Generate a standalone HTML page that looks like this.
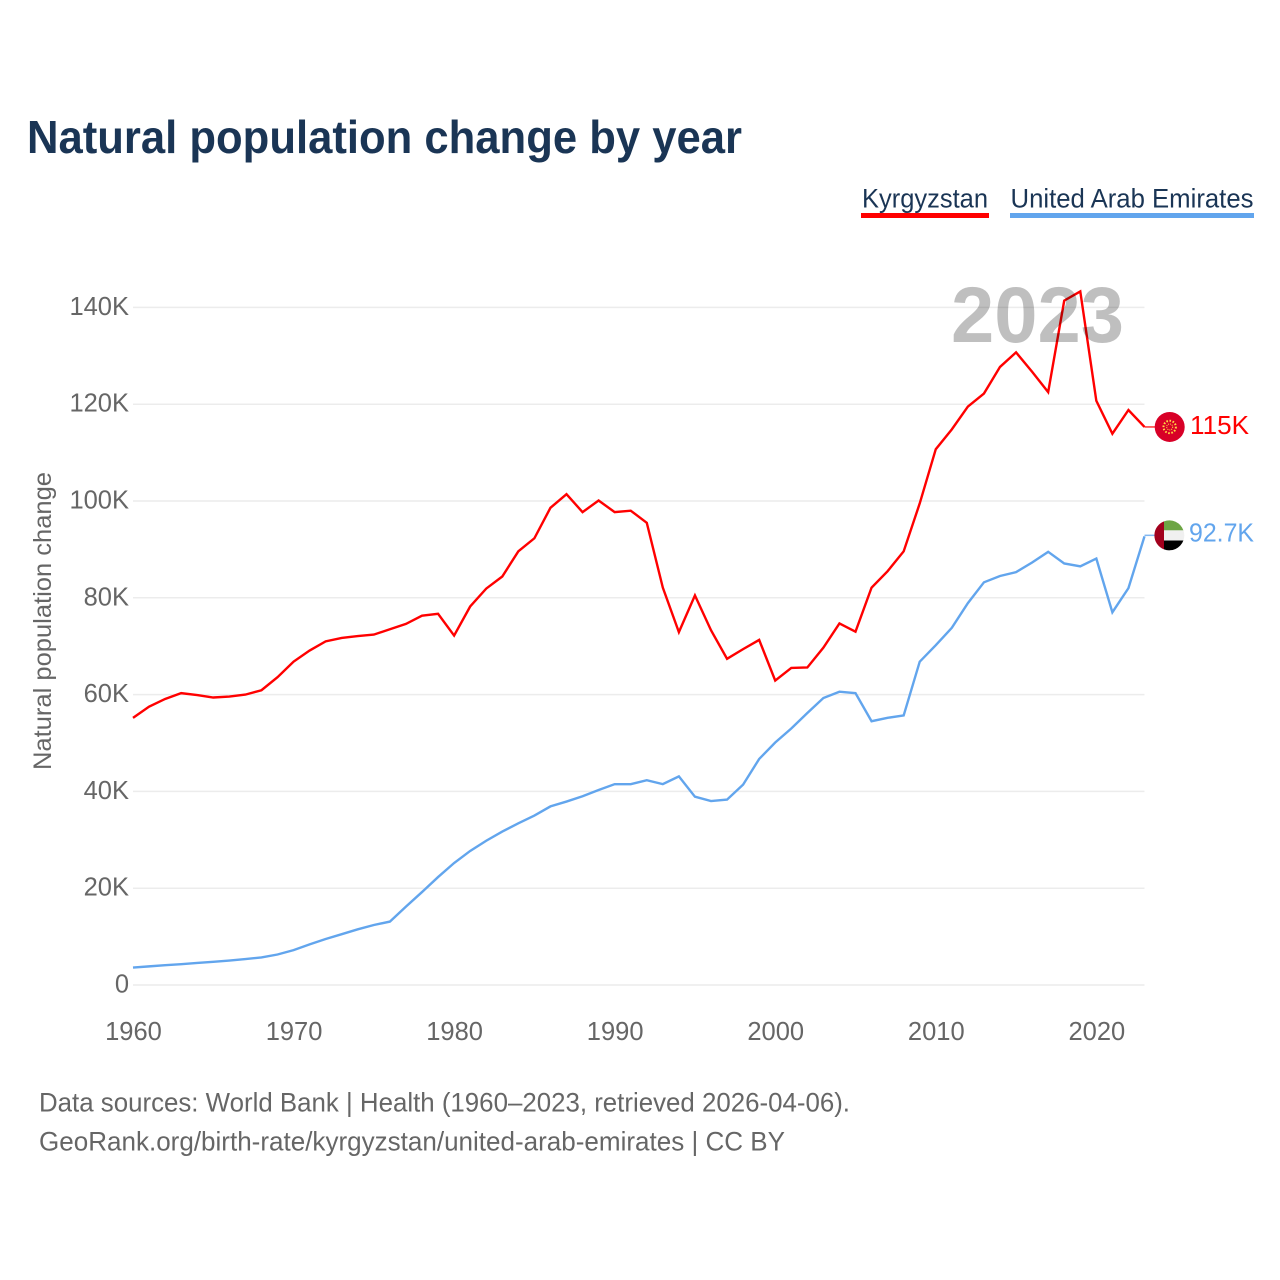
<!DOCTYPE html>
<html lang="en">
<head>
<meta charset="utf-8">
<title>Natural population change by year</title>
<style>
html,body{margin:0;padding:0;background:#fff;}
#chart{display:block;width:1280px;height:1280px;font-family:"Liberation Sans",sans-serif;}
</style>
</head>
<body>
<svg id="chart" xmlns="http://www.w3.org/2000/svg" width="1280" height="1280" viewBox="0 0 1280 1280">
  <rect x="0" y="0" width="1280" height="1280" fill="#ffffff"/>
  <text x="27" y="153" font-size="46" font-weight="700" fill="#1a3555" textLength="715" lengthAdjust="spacingAndGlyphs">Natural population change by year</text>

  <text x="862" y="207.5" font-size="27" fill="#1a3555" textLength="126" lengthAdjust="spacingAndGlyphs">Kyrgyzstan</text>
  <rect x="861" y="213" width="128" height="5" fill="#ff0000"/>
  <text x="1010.5" y="207.5" font-size="27" fill="#1a3555" textLength="243" lengthAdjust="spacingAndGlyphs">United Arab Emirates</text>
  <rect x="1010" y="213" width="244" height="5" fill="#62a5ed"/>

  <g id="grid"></g>
  <g id="yticks"></g>
  <g id="xticks"></g>
  <text transform="translate(51,621) rotate(-90)" text-anchor="middle" font-size="25" fill="#666666" textLength="298" lengthAdjust="spacingAndGlyphs">Natural population change</text>
  <g id="series"></g>
  <g id="ends"></g>

  <text x="951" y="342" font-size="79" font-weight="700" fill="#000000" fill-opacity="0.25" textLength="173" lengthAdjust="spacingAndGlyphs">2023</text>

  <text x="39" y="1111.5" font-size="27" fill="#666666" textLength="811" lengthAdjust="spacingAndGlyphs">Data sources: World Bank | Health (1960–2023, retrieved 2026-04-06).</text>
  <text x="39" y="1150.5" font-size="27" fill="#666666" textLength="746" lengthAdjust="spacingAndGlyphs">GeoRank.org/birth-rate/kyrgyzstan/united-arab-emirates | CC BY</text>
</svg>
<script>
const years = [1960,1961,1962,1963,1964,1965,1966,1967,1968,1969,1970,1971,1972,1973,1974,1975,1976,1977,1978,1979,1980,1981,1982,1983,1984,1985,1986,1987,1988,1989,1990,1991,1992,1993,1994,1995,1996,1997,1998,1999,2000,2001,2002,2003,2004,2005,2006,2007,2008,2009,2010,2011,2012,2013,2014,2015,2016,2017,2018,2019,2020,2021,2022,2023];
const kyrgyzstan = [55200,57500,59100,60300,59900,59400,59600,60000,60900,63600,66800,69100,71000,71700,72100,72400,73500,74600,76300,76700,72200,78200,81900,84400,89600,92300,98600,101400,97700,100100,97700,98000,95500,82100,72900,80500,73300,67400,69400,71300,62900,65500,65600,69700,74700,73000,82100,85500,89600,99500,110700,114800,119500,122200,127700,130700,126700,122500,141400,143300,120700,113900,118800,115300];
const uae = [3600,3850,4100,4300,4550,4800,5050,5350,5700,6300,7200,8400,9500,10500,11500,12400,13100,16200,19200,22300,25200,27700,29800,31700,33400,35000,36900,37900,39000,40300,41500,41500,42300,41500,43100,38900,38000,38300,41400,46700,50100,53000,56200,59300,60600,60300,54500,55200,55700,66800,70200,73800,78900,83200,84500,85300,87300,89500,87100,86500,88100,77000,82000,92700];
const yTickValues = [0,20000,40000,60000,80000,100000,120000,140000];
const yTickLabels = ["0","20K","40K","60K","80K","100K","120K","140K"];
const xTickValues = [1960,1970,1980,1990,2000,2010,2020];
const xTickLabels = ["1960","1970","1980","1990","2000","2010","2020"];

const NS = 'http://www.w3.org/2000/svg';
const x0 = 133, x1 = 1144.5, y0 = 985, pxPerUnit = 4.84 / 1000;
function xScale(year) { return x0 + (year - years[0]) * (x1 - x0) / (years[years.length - 1] - years[0]); }
function yScale(v) { return y0 - v * pxPerUnit; }
function fmt(v) { const k = v / 1000; return (k >= 100 ? String(Math.round(k)) : k.toFixed(1)) + 'K'; }
function make(tag, attrs, parent, text) {
  const el = document.createElementNS(NS, tag);
  for (const key in attrs) el.setAttribute(key, attrs[key]);
  if (text !== undefined) el.textContent = text;
  parent.appendChild(el);
  return el;
}

const gridG = document.getElementById('grid');
const yG = document.getElementById('yticks');
const xG = document.getElementById('xticks');
const seriesG = document.getElementById('series');
const endsG = document.getElementById('ends');

yTickValues.forEach(function (v, i) {
  const line = make('line', {x1: x0, x2: x1, y1: yScale(v), y2: yScale(v), stroke: '#ececec', 'stroke-width': 1.5}, gridG);
  
  
  const label = make('text', {x: 129, y: yScale(v) + 7.5, 'text-anchor': 'end', 'font-size': 25.5, fill: '#666666'}, yG, yTickLabels[i]);
  
  
});

xTickValues.forEach(function (yr, i) {
  const label = make('text', {x: xScale(yr) + 0.5, y: 1040, 'text-anchor': 'middle', 'font-size': 25.5, fill: '#666666'}, xG, xTickLabels[i]);
  
  
});

function points(values) {
  return values.map(function (v, i) { return xScale(years[i]).toFixed(2) + ',' + yScale(v).toFixed(2); }).join(' ');
}

const lineK = make('polyline', {points: points(kyrgyzstan), fill: 'none', stroke: '#ff0000', 'stroke-width': 2.4, 'stroke-linejoin': 'miter'}, seriesG);


const lineU = make('polyline', {points: points(uae), fill: 'none', stroke: '#62a5ed', 'stroke-width': 2.4, 'stroke-linejoin': 'miter'}, seriesG);



/* Kyrgyzstan end marker */
const kVal = kyrgyzstan[kyrgyzstan.length - 1];
const kY = yScale(kVal);
const stubK = make('line', {x1: x1, x2: 1156, y1: kY, y2: kY, stroke: '#ff0000', 'stroke-width': 1.5, 'stroke-opacity': 0.8}, endsG);


const flagK = make('g', {transform: 'translate(1169.7,' + kY + ')'}, endsG);


make('circle', {r: 15, fill: '#d80027'}, flagK);
make('circle', {r: 6.2, fill: 'none', stroke: '#ffda44', 'stroke-width': 2, 'stroke-dasharray': '1.6 1.6'}, flagK);
make('circle', {r: 3, fill: 'none', stroke: '#ffda44', 'stroke-width': 1, 'stroke-dasharray': '1 1'}, flagK);
const labelK = make('text', {x: 1190, y: kY + 7, 'font-size': 25.5, fill: '#ff0000', textLength: 59, lengthAdjust: 'spacingAndGlyphs'}, endsG, fmt(kVal));



/* UAE end marker */
const uVal = uae[uae.length - 1];
const uY = yScale(uVal);
const stubU = make('line', {x1: x1, x2: 1156, y1: uY - 1, y2: uY - 1, stroke: '#62a5ed', 'stroke-width': 1.5, 'stroke-opacity': 0.8}, endsG);


const flagU = make('g', {transform: 'translate(1169.3,' + (uY - 1) + ')'}, endsG);


make('path', {d: 'M-5.3,-5 V-14 A15,15 0 0 1 14.1,-5 Z', fill: '#6da544'}, flagU);
make('path', {d: 'M-5.3,-5 H14.1 A15,15 0 0 1 14.1,5.2 H-5.3 Z', fill: '#f0f0f0'}, flagU);
make('path', {d: 'M-5.3,5.2 H14.1 A15,15 0 0 1 -5.3,14 Z', fill: '#000000'}, flagU);
make('path', {d: 'M-5.3,-14 A15,15 0 0 0 -5.3,14 Z', fill: '#a2001d'}, flagU);
const labelU = make('text', {x: 1189, y: uY + 5, 'font-size': 25.5, fill: '#62a5ed', textLength: 65, lengthAdjust: 'spacingAndGlyphs'}, endsG, fmt(uVal));


</script>
</body>
</html>
